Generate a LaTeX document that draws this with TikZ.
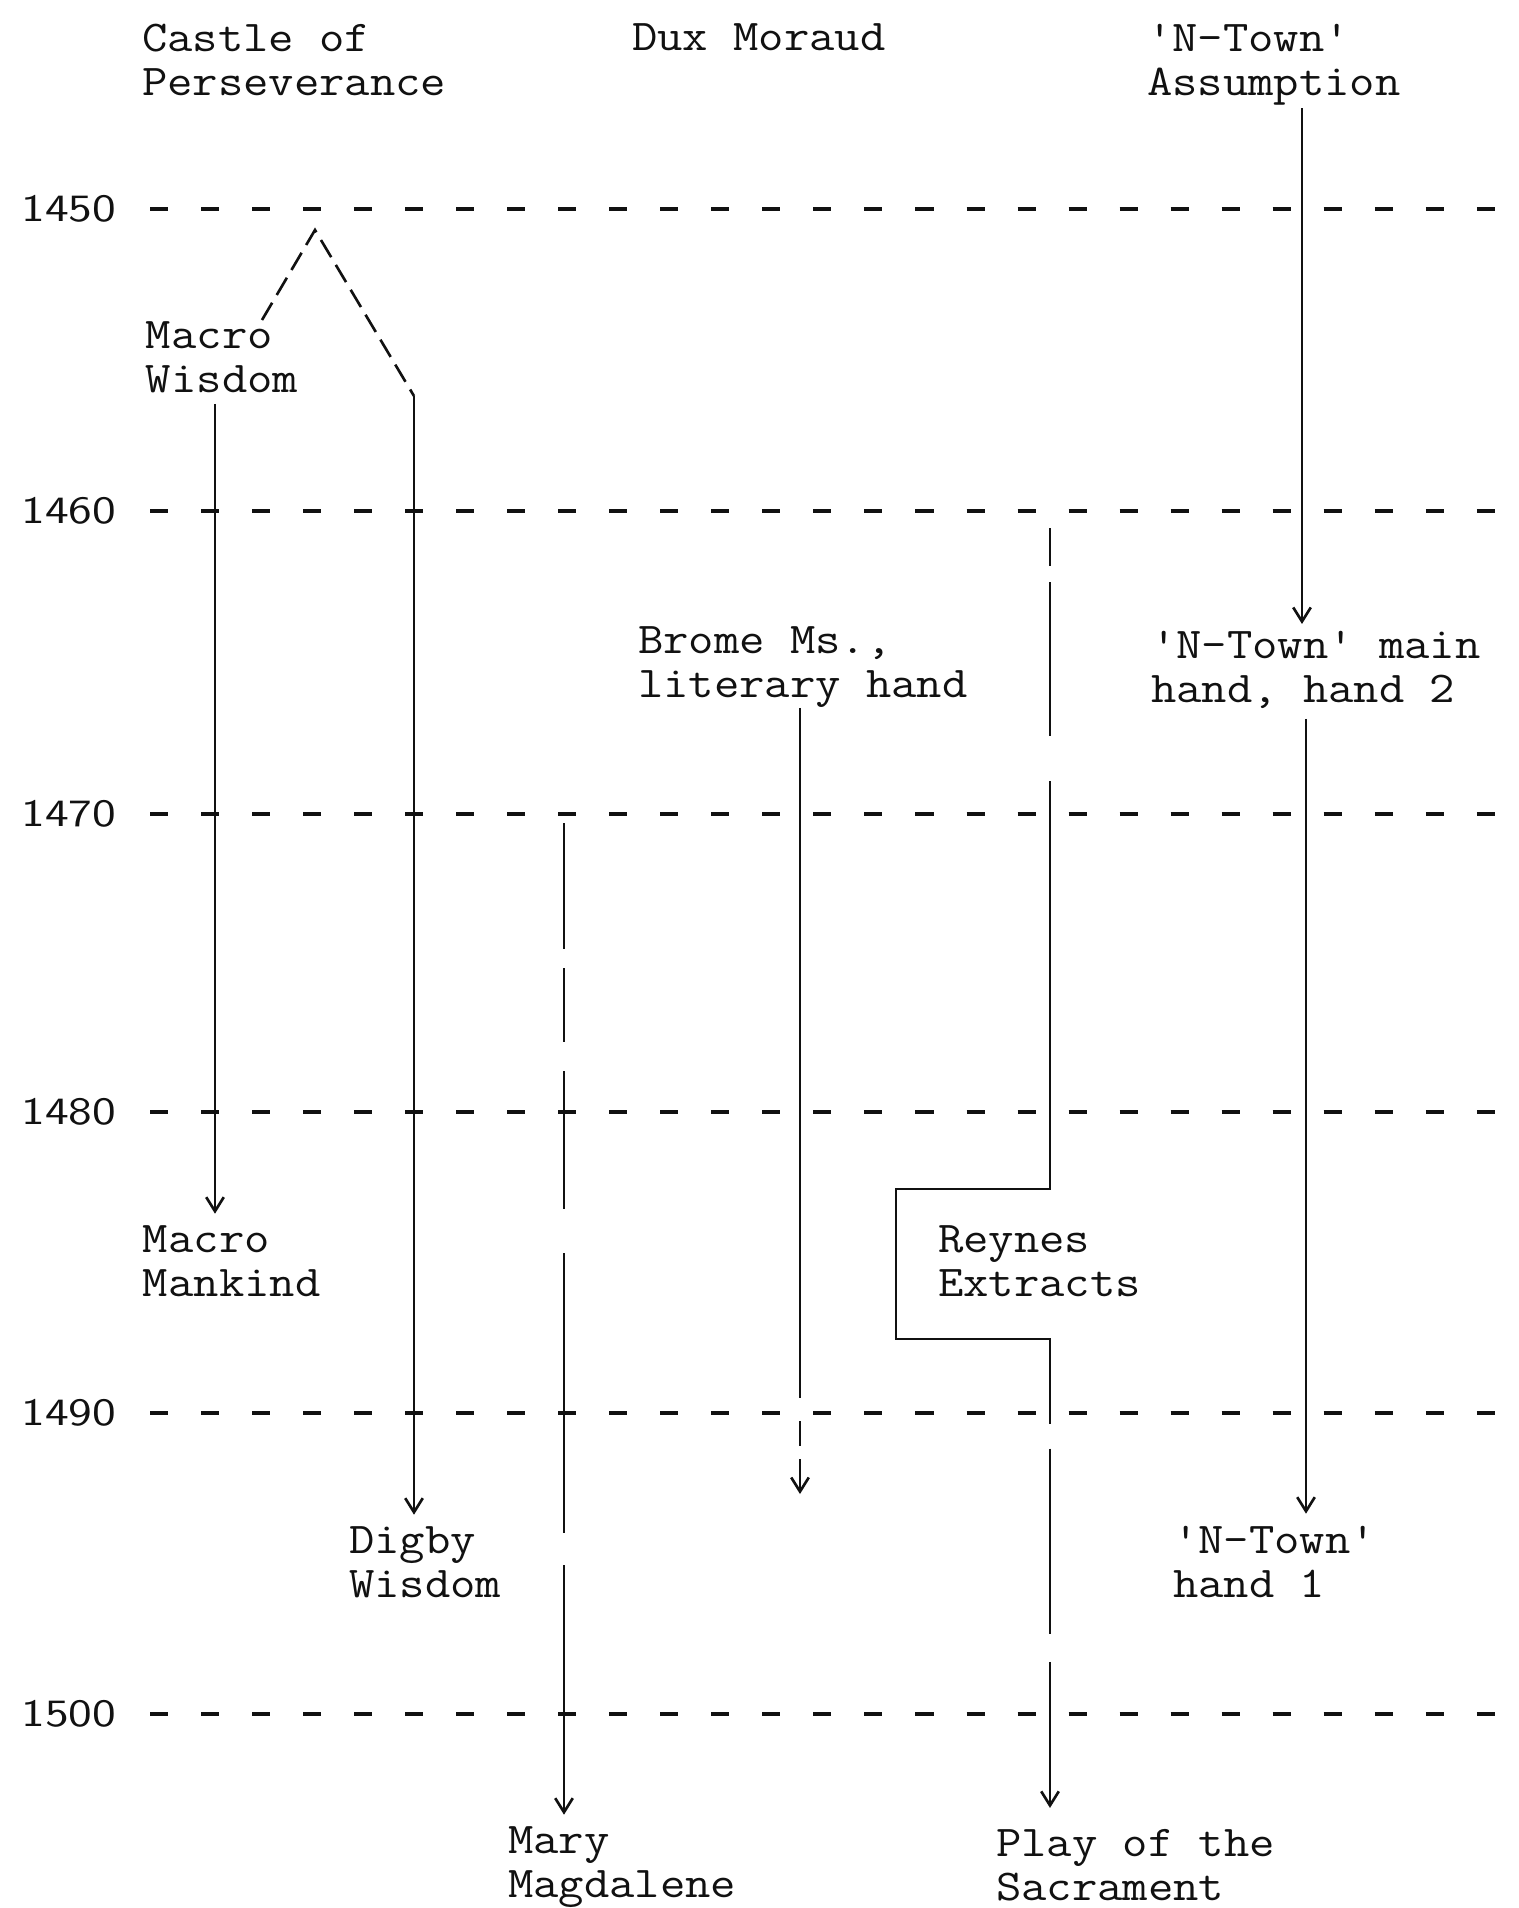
\documentclass[tikz,border=0pt]{standalone}
\usepackage{tikz}
\usetikzlibrary{arrows.meta}
\definecolor{PlayInk}{HTML}{111111}
\definecolor{PlayPaper}{HTML}{FFFFFF}

\begin{document}
\begin{tikzpicture}[x=0.01cm,y=-0.01cm,
    playname/.style={anchor=north west,inner sep=0pt,outer sep=0pt,align=left,xscale=1.12,
      text=PlayInk,font=\ttfamily\fontsize{12.5pt}{12.5pt}\selectfont},
    yearname/.style={anchor=east,inner sep=0pt,xscale=1.25,
      text=PlayInk,font=\sffamily\fontsize{11pt}{11pt}\selectfont},
    yearline/.style={PlayInk,line width=1.2pt,dash pattern=on 0.18cm off 0.33cm,shorten <=9.4pt},
    flow/.style={PlayInk,line width=0.75pt,-{Straight Barb[length=4pt,width=5pt]},
      shorten <=3pt,shorten >=3.5pt},
    leg/.style={PlayInk,line width=0.75pt,dash pattern=on 0.2cm off 0.09cm}]
      \fill[PlayPaper] (0,0) rectangle (1519,1908);
      \useasboundingbox (0,0) rectangle (1519,1908);
      \coordinate (rim) at (1517,0);
      \foreach \yr/\yy in {1450/209,1460/511,1470/814,1480/1112,1490/1413,1500/1714} {
        \node[yearname] (y\yr) at (117,\yy) {\yr};
        \draw[yearline] (y\yr.east) -- (y\yr.east -| rim);
      }
      \node[playname] (castle) at (142,24) {Castle of\\Perseverance};
      \node[playname] (dux) at (632,24) {Dux Moraud};
      \node[playname] (nassum) at (1147,24) {'N-Town'\\Assumption};
      \node[playname] (mwis) at (146,322) {Macro\\Wisdom};
      \node[playname] (brome) at (638,627) {Brome Ms.,\\literary hand};
      \node[playname] (nmain) at (1151,631) {'N-Town' main\\hand, hand 2};
      \node[playname] (mmank) at (143,1226) {Macro\\Mankind};
      \node[playname] (reynes) at (938,1226) {Reynes\\Extracts};
      \node[playname] (digby) at (349,1527) {Digby\\Wisdom};
      \node[playname] (nhand) at (1173,1526) {'N-Town'\\hand 1};
      \node[playname] (mary) at (508,1827) {Mary\\Magdalene};
      \node[playname] (play) at (996,1829) {Play of the\\Sacrament};
      \coordinate (colA) at (215,0);
      \draw[flow] (mwis.south -| colA) -- (mmank.north -| colA);
      \coordinate (lfoot) at (262,320);
      \coordinate (peak) at (315,230);
      \coordinate (bend) at (414,396);
      \draw[leg] (lfoot) -- (peak) -- (bend);
      \draw[flow,shorten <=0pt] (bend) -- (digby.north -| bend);
      \coordinate (maryTop) at (564,823);
      \draw[flow,shorten <=0pt,dash pattern=on 1.26cm off 0.19cm on 0.74cm off 0.29cm on 1.38cm off 0.44cm on 2.8cm off 0.32cm on 3cm]
        (maryTop) -- (mary.north -| maryTop);
      \coordinate (colD) at (800,0);
      \coordinate (bromeEnd) at (800,1494);
      \draw[flow,shorten <=0pt,shorten >=0pt,dash pattern=on 6.9cm off 0.23cm on 0.25cm off 0.13cm on 1cm]
        (brome.south -| colD) -- (bromeEnd);
      \coordinate (reyTop) at (1050,528);
      \coordinate (reyA) at (1050,1189);
      \coordinate (reyB) at (896,1189);
      \coordinate (reyC) at (896,1339);
      \coordinate (reyD) at (1050,1339);
      \draw[flow,shorten <=0pt,shorten >=6pt,dash pattern=on 0.38cm off 0.16cm on 1.54cm off 0.45cm on 9.5cm off 0.25cm on 1.85cm off 0.28cm on 2cm]
        (reyTop) -- (reyA) -- (reyB) -- (reyC) -- (reyD) -- (play.north -| reyTop);
      \coordinate (colF) at (1302,0);
      \draw[flow,shorten <=1pt,shorten >=2pt] (nassum.south -| colF) -- (nmain.north -| colF);
      \coordinate (colG) at (1306,0);
      \draw[flow] (nmain.south -| colG) -- (nhand.north -| colG);
    \end{tikzpicture}
\end{document}
